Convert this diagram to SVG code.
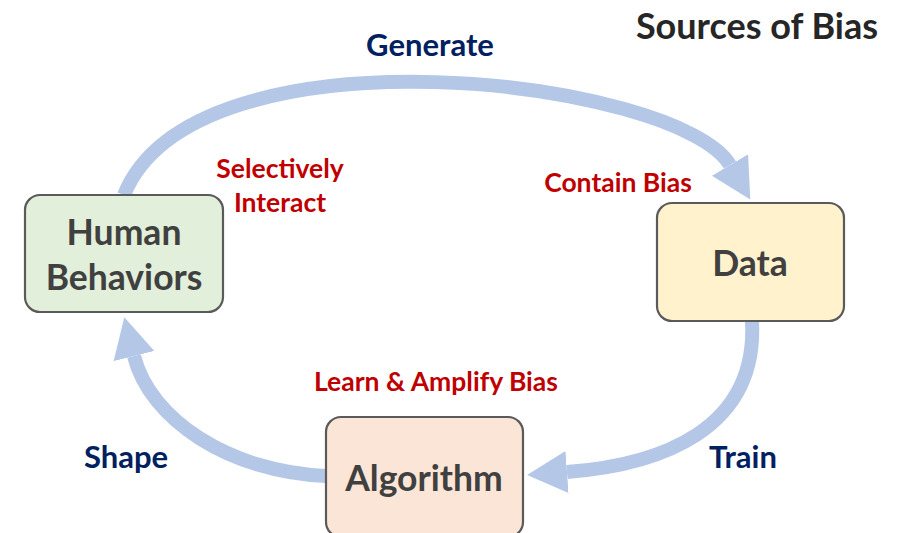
<svg xmlns="http://www.w3.org/2000/svg" width="900" height="533" viewBox="0 0 900 533">
<style>
  text { font-family: Lato, "Open Sans", "Liberation Sans", sans-serif; font-weight: bold; text-anchor: middle; }
  .box { stroke: #5a5a5a; stroke-width: 2.2; }
  .node { font-size: 35.5px; fill: #404040; }
  .red { font-size: 26.5px; fill: #C00000; }
  .blue { font-size: 31px; fill: #002060; }
  .title { font-size: 36px; fill: #262626; }
  .conn { fill: none; stroke: #B4C7E7; stroke-width: 14; }
</style>
<defs>
  <marker id="head" markerUnits="userSpaceOnUse" viewBox="0 -23 42 46" markerWidth="42" markerHeight="46" refX="0" refY="0" orient="auto">
    <path d="M0,-21 L40,0 L0,21 Z" fill="#B4C7E7"/>
  </marker>
</defs>
<rect width="900" height="533" fill="#ffffff"/>
<text class="title" x="757" y="39">Sources of Bias</text>
<g id="connectors">
  <path class="conn" d="M124,195 C195,19 680,80 730,165" marker-end="url(#head)"/>
  <path class="conn" d="M752,321 C758,430 660,465 567,472" marker-end="url(#head)"/>
  <path class="conn" d="M326,476 C230,472 150,420 134,356" marker-end="url(#head)"/>
</g>
<g id="labels">
  <text class="blue" x="430" y="56">Generate</text>
  <text class="red" x="280" y="178">Selectively</text>
  <text class="red" x="280" y="212">Interact</text>
  <text class="red" x="618" y="192">Contain Bias</text>
  <text class="red" x="436" y="391">Learn &amp; Amplify Bias</text>
  <text class="blue" x="126" y="468">Shape</text>
  <text class="blue" x="743" y="468">Train</text>
</g>
<g id="human-behaviors">
  <rect class="box" x="25" y="195" width="198" height="117" rx="15" fill="#E2EFDA"/>
  <text class="node" x="124" y="245">Human</text>
  <text class="node" x="124" y="290">Behaviors</text>
</g>
<g id="data">
  <rect class="box" x="657" y="203" width="187" height="118" rx="15" fill="#FFF2CC"/>
  <text class="node" x="750" y="276">Data</text>
</g>
<g id="algorithm">
  <rect class="box" x="326" y="417" width="197" height="120" rx="15" fill="#FBE5D6"/>
  <text class="node" x="424" y="491">Algorithm</text>
</g>
</svg>
